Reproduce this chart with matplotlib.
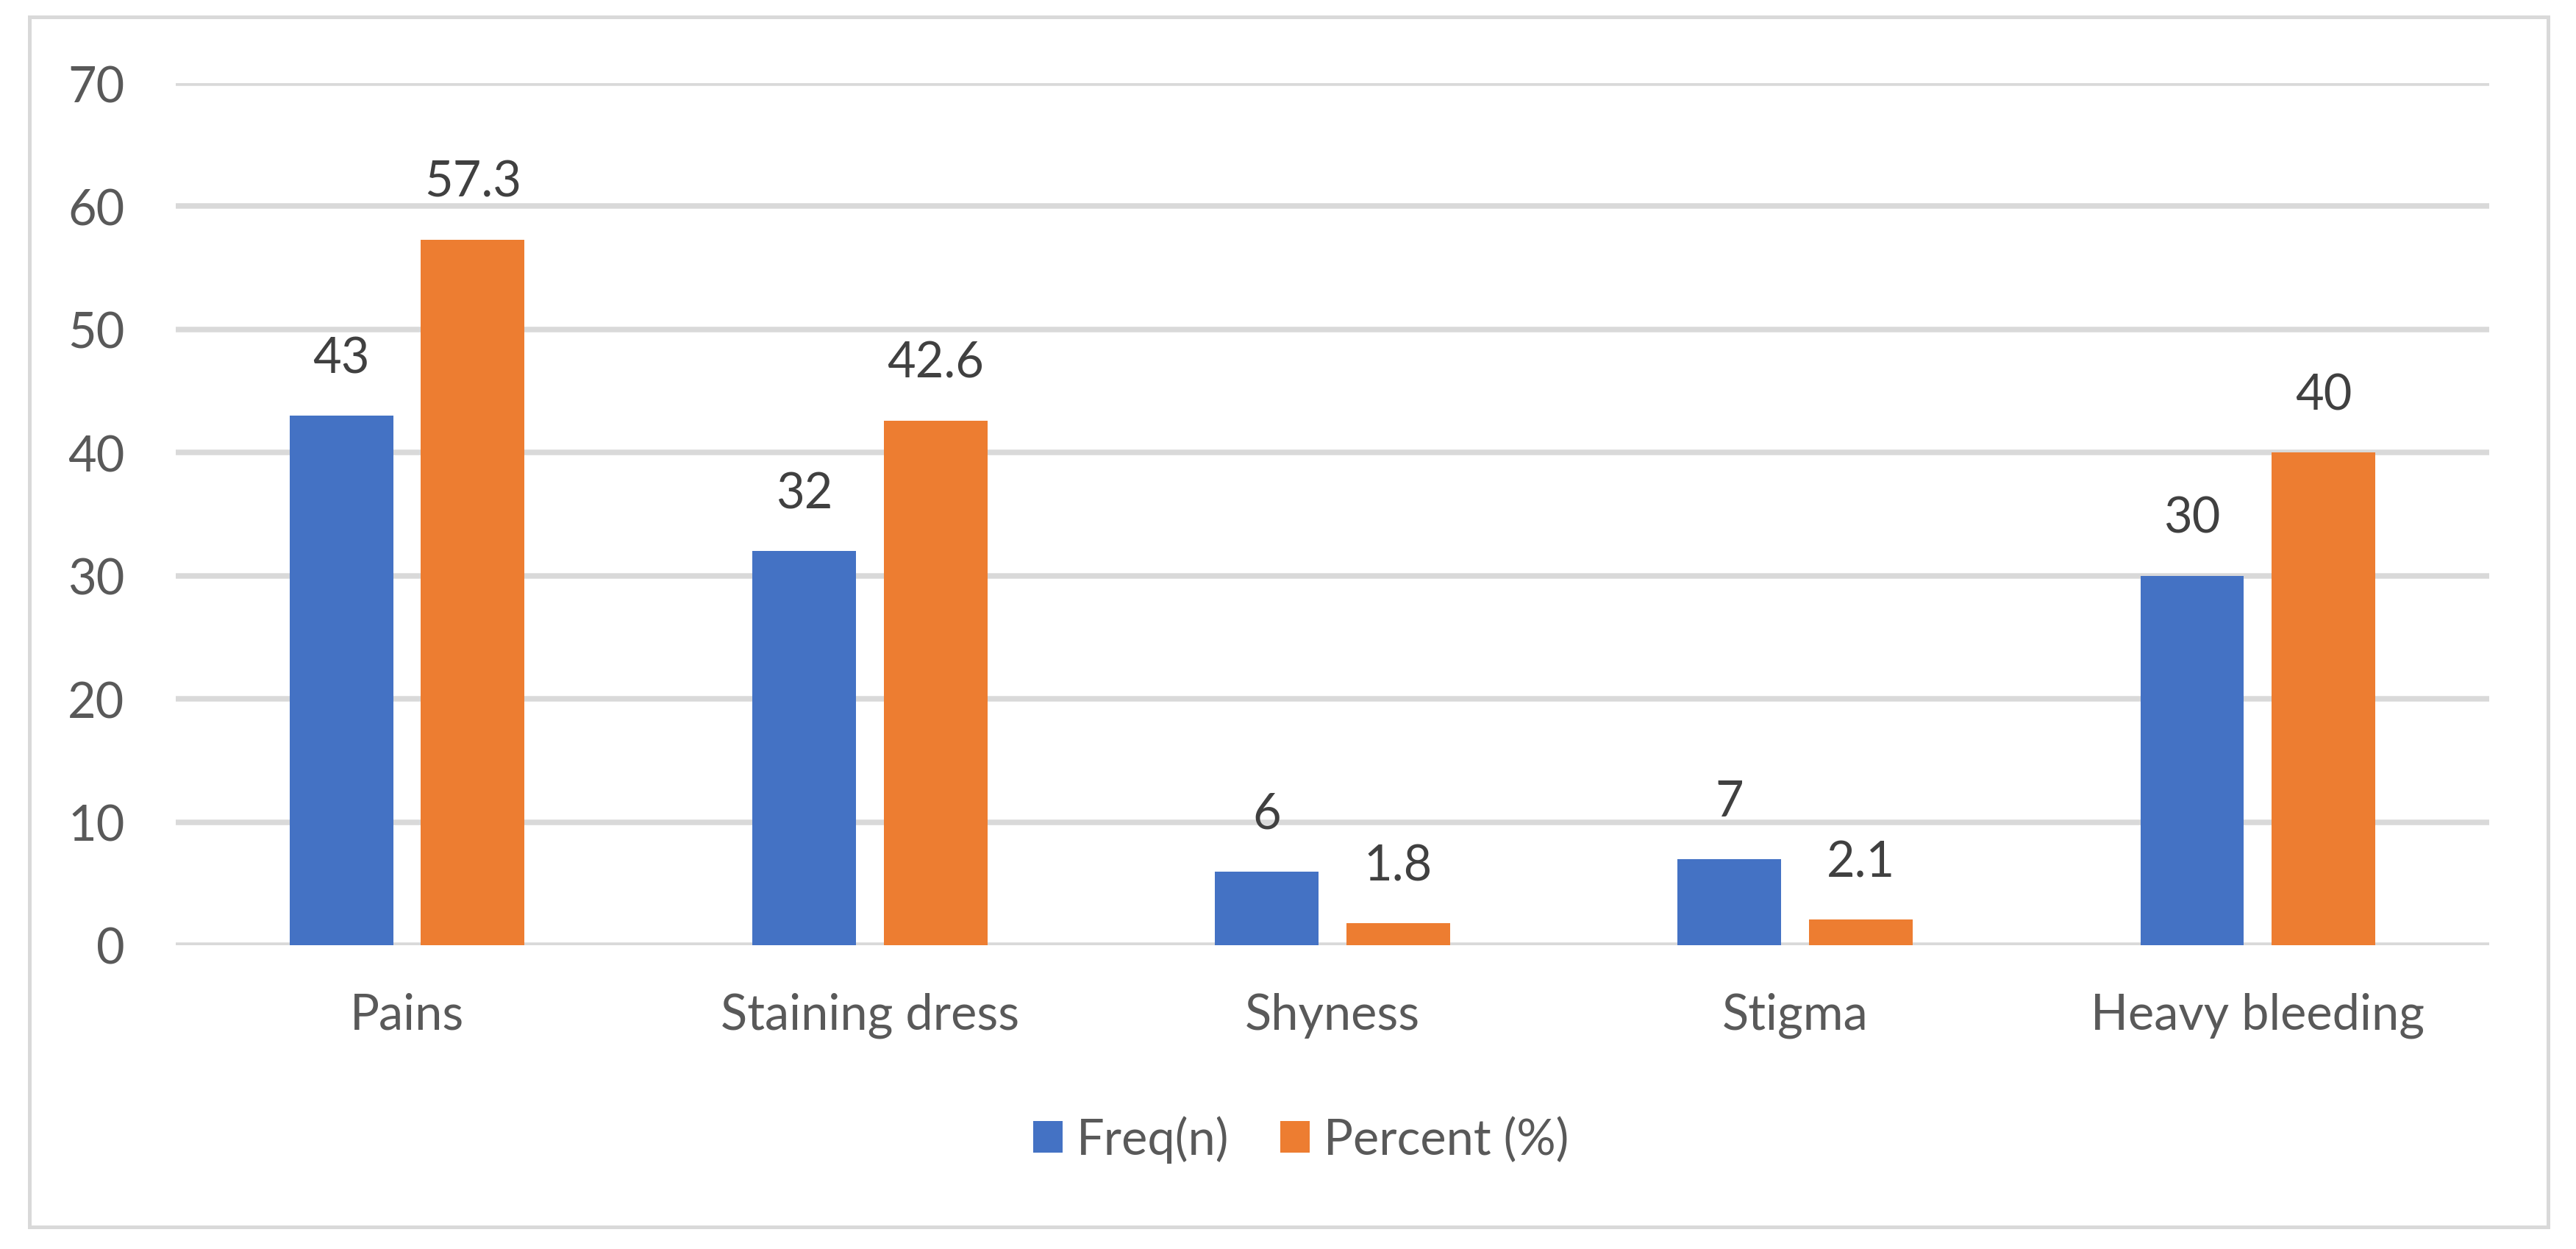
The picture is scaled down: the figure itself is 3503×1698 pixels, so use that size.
import numpy as np
import matplotlib
matplotlib.use("Agg")
import matplotlib.pyplot as plt
from matplotlib.patches import Rectangle

# dados do gráfico
categorias = ["Pains", "Staining dress", "Shyness", "Stigma", "Heavy bleeding"]
freq = [43, 32, 6, 7, 30]
percent = [57.3, 42.6, 1.8, 2.1, 40]
freq_labels = ["43", "32", "6", "7", "30"]
percent_labels = ["57.3", "42.6", "1.8", "2.1", "40"]
yticks = [0, 10, 20, 30, 40, 50, 60, 70]

plt.rcParams["font.family"] = ["Lato", "DejaVu Sans"]

azul = "#4472C4"
laranja = "#ED7D31"
cinza_texto = "#595959"
cinza_rotulo = "#404040"
cinza_linha = "#D9D9D9"
tam = 48

fig = plt.figure(figsize=(35.03, 16.99), dpi=100)
ax = fig.add_axes([0.0682, 0.2431, 0.9663 - 0.0682, 0.9329 - 0.2431])

x = np.arange(len(categorias))
largura = 0.224
desloc = 0.142
b1 = ax.bar(x - desloc, freq, largura, color=azul, label="Freq(n)", zorder=3)
b2 = ax.bar(x + desloc, percent, largura, color=laranja, label="Percent (%)", zorder=3)

for barras, textos in [(b1, freq_labels), (b2, percent_labels)]:
    for barra, txt in zip(barras, textos):
        ax.annotate(txt, (barra.get_x() + barra.get_width() / 2, barra.get_height()),
                    xytext=(0, 56), textcoords="offset points", ha="center", va="center",
                    fontsize=tam, color=cinza_rotulo)

ax.set_xlim(-0.5, len(categorias) - 0.5)
ax.set_ylim(0, 70)
ax.set_yticks(yticks)
ax.set_xticks(x)
ax.set_xticklabels(categorias)
ax.tick_params(axis="both", length=0, labelsize=tam, labelcolor=cinza_texto)
ax.tick_params(axis="y", pad=50)
ax.tick_params(axis="x", pad=46)
ax.yaxis.grid(True, color=cinza_linha, linewidth=5.4, zorder=0)
ax.set_axisbelow(True)
for s in ax.spines.values():
    s.set_visible(False)

leg = fig.legend(loc="center", bbox_to_anchor=(0.505, 0.088), ncol=2, frameon=False,
                 fontsize=tam, handlelength=0.6, handleheight=0.62,
                 handletextpad=0.28, columnspacing=1.05)
for t in leg.get_texts():
    t.set_color(cinza_texto)

# moldura externa do gráfico
fig.patches.append(Rectangle((40 / 3503, 1 - 1669 / 1699), (3465 - 40) / 3503, (1669 - 24) / 1699,
                             transform=fig.transFigure, fill=False, edgecolor=cinza_linha,
                             linewidth=3.6, zorder=0))

fig.savefig("out.png", dpi=100, facecolor="white")
